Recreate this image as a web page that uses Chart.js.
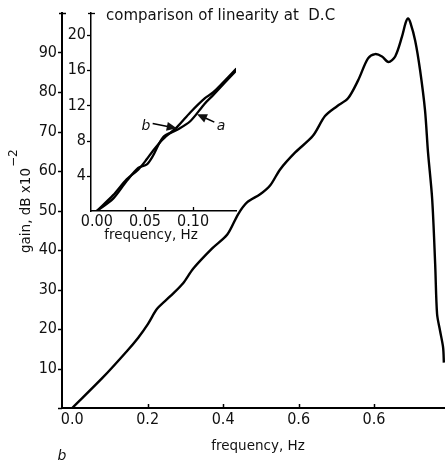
<!DOCTYPE html>
<html>
<head>
<meta charset="utf-8">
<script src="https://cdn.jsdelivr.net/npm/chart.js@4/dist/chart.umd.min.js"></script>
<style>
  html, body { margin: 0; padding: 0; background: #fff; }
  #wrap { position: relative; width: 445px; height: 463px; overflow: hidden; }
  #wrap canvas { position: absolute; left: 0; top: 0; }
</style>
</head>
<body>
<div id="wrap">
  <canvas id="main" width="445" height="463"></canvas>
  <canvas id="inset" width="340" height="250"></canvas>
</div>
<script>
// Main response: frequency (Hz) against gain (dB x 10^-2)
const mainFreq = [0.000, 0.082, 0.146, 0.175, 0.201, 0.225, 0.260, 0.294, 0.321, 0.371,
                  0.411, 0.440, 0.464, 0.498, 0.525, 0.551, 0.591, 0.638, 0.670, 0.702,
                  0.731, 0.758, 0.784, 0.803, 0.821, 0.838, 0.856, 0.874, 0.884, 0.890,
                  0.896, 0.909, 0.922, 0.935, 0.943, 0.954, 0.962, 0.967, 0.975, 0.983, 0.985];
const mainGain = [0.0, 7.8, 14.5, 17.8, 21.3, 25.1, 28.3, 31.6, 35.3, 40.4,
                  43.9, 49.1, 52.1, 54.1, 56.4, 60.4, 64.7, 68.9, 73.9, 76.4,
                  78.4, 83.0, 88.5, 89.6, 89.0, 87.6, 89.0, 94.0, 97.6, 98.6,
                  97.6, 93.0, 85.5, 75.4, 64.7, 52.9, 36.3, 23.8, 19.5, 15.3, 11.5];
const mainXTickValues = [0, 0.2, 0.4, 0.6, 0.8];
const mainXTickLabels = ['0.0', '0.2', '0.4', '0.6', '0.6'];
const mainYTickValues = [10, 20, 30, 40, 50, 60, 70, 80, 90];

// Inset: linearity at DC, curves a and b
const insetFreq  = [0.000, 0.017, 0.031, 0.043, 0.052, 0.058, 0.069, 0.083, 0.097, 0.112, 0.121, 0.145];
const insetGainA = [0.0, 1.8, 3.6, 4.7, 5.9, 6.8, 8.2, 9.5, 11.2, 12.8, 13.5, 16.2];
const insetGainB = [0.0, 1.4, 3.4, 4.9, 5.3, 6.2, 8.4, 9.2, 10.2, 12.2, 13.2, 16.0];
const insetXTickValues = [0, 0.05, 0.10];
const insetXTickLabels = ['0.00', '0.05', '0.10'];
const insetYTickValues = [4, 8, 12, 16, 20];

const DIGITS = '"Liberation Sans Narrow", "DejaVu Sans Condensed", "Liberation Sans", sans-serif';
const TEXT = '"DejaVu Sans", sans-serif';
const INK = '#111';

// short tick marks drawn against the axis lines
const tickMarks = {
  id: 'tickMarks',
  afterDraw(chart, args, opts) {
    const ctx = chart.ctx, ca = chart.chartArea;
    const xs = chart.scales.x, ys = chart.scales.y;
    ctx.save();
    ctx.strokeStyle = '#000';
    ctx.lineWidth = opts.width;
    (opts.x || []).forEach(v => {
      const px = Math.round(xs.getPixelForValue(v)) + 0.5;
      ctx.beginPath(); ctx.moveTo(px, ca.bottom); ctx.lineTo(px, ca.bottom - opts.len); ctx.stroke();
    });
    (opts.y || []).forEach(v => {
      const py = Math.round(ys.getPixelForValue(v)) + 0.5;
      ctx.beginPath(); ctx.moveTo(ca.left, py); ctx.lineTo(ca.left - opts.len, py); ctx.stroke();
    });
    if (opts.cap !== undefined) {
      const py = Math.round(ys.getPixelForValue(opts.cap)) + 0.5;
      ctx.beginPath(); ctx.moveTo(ca.left - 3, py); ctx.lineTo(ca.left + 4, py); ctx.stroke();
    }
    ctx.restore();
  }
};

function arrow(ctx, x0, y0, x1, y1, head) {
  const a = Math.atan2(y1 - y0, x1 - x0);
  ctx.beginPath(); ctx.moveTo(x0, y0);
  ctx.lineTo(x1 - Math.cos(a) * head * 0.8, y1 - Math.sin(a) * head * 0.8); ctx.stroke();
  ctx.beginPath();
  ctx.moveTo(x1, y1);
  ctx.lineTo(x1 - head * Math.cos(a) + head * 0.45 * Math.sin(a), y1 - head * Math.sin(a) - head * 0.45 * Math.cos(a));
  ctx.lineTo(x1 - head * Math.cos(a) - head * 0.45 * Math.sin(a), y1 - head * Math.sin(a) + head * 0.45 * Math.cos(a));
  ctx.closePath(); ctx.fill();
}

// axis titles and the panel letter of the main chart
const mainText = {
  id: 'mainText',
  afterDraw(chart) {
    const ctx = chart.ctx;
    ctx.save();
    ctx.fillStyle = INK;
    ctx.textBaseline = 'alphabetic';
    ctx.font = '13.5px ' + TEXT;
    ctx.textAlign = 'center';
    ctx.fillText('frequency, Hz', 258, 450);
    // y title, rotated, with superscript exponent
    ctx.translate(30, 253);
    ctx.rotate(-Math.PI / 2);
    ctx.textAlign = 'left';
    const body = 'gain, dB x10';
    ctx.fillText(body, 0, 0);
    const w = ctx.measureText(body).width;
    ctx.font = '12px ' + TEXT;
    ctx.fillText('\u22122', w + 1, -13);
    ctx.restore();
    ctx.save();
    ctx.fillStyle = INK;
    ctx.font = 'italic 14px ' + TEXT;
    ctx.textAlign = 'center';
    ctx.fillText('b', 62, 460);
    ctx.restore();
  }
};

// inset title, axis title and a/b pointers
const insetText = {
  id: 'insetText',
  afterDraw(chart) {
    const ctx = chart.ctx, xs = chart.scales.x, ys = chart.scales.y;
    ctx.save();
    ctx.fillStyle = INK;
    ctx.strokeStyle = '#000';
    ctx.textBaseline = 'alphabetic';
    ctx.font = '15px ' + TEXT;
    ctx.textAlign = 'left';
    ctx.fillText('comparison of linearity at  D.C', 106, 20);
    ctx.font = '13.5px ' + TEXT;
    ctx.textAlign = 'center';
    ctx.fillText('frequency, Hz', 151, 239);
    ctx.lineWidth = 1.6;
    ctx.font = 'italic 14px ' + TEXT;
    // pointer b
    ctx.fillText('b', xs.getPixelForValue(0.051), ys.getPixelForValue(9.8) + 5);
    arrow(ctx, xs.getPixelForValue(0.058), ys.getPixelForValue(9.95),
               xs.getPixelForValue(0.083), ys.getPixelForValue(9.4), 10);
    // pointer a
    ctx.fillText('a', xs.getPixelForValue(0.129), ys.getPixelForValue(9.8) + 5);
    arrow(ctx, xs.getPixelForValue(0.122), ys.getPixelForValue(10.1),
               xs.getPixelForValue(0.104), ys.getPixelForValue(11.0), 10);
    ctx.restore();
  }
};

const pts = (xs, ys) => xs.map((x, i) => ({ x: x, y: ys[i] }));

new Chart(document.getElementById('main'), {
  type: 'line',
  data: {
    datasets: [{
      data: pts(mainFreq, mainGain),
      borderColor: '#000', borderWidth: 2.4, pointRadius: 0,
      tension: 0.3, fill: false
    }]
  },
  options: {
    responsive: false, animation: false, devicePixelRatio: 1,
    layout: { padding: { top: 9, right: 0, left: 0, bottom: 0 } },
    plugins: {
      legend: { display: false }, tooltip: { enabled: false },
      tickMarks: { x: [0.2, 0.4, 0.6, 0.8], y: [0].concat(mainYTickValues), cap: 100, len: 4, width: 1.5 }
    },
    scales: {
      x: {
        type: 'linear', min: -0.027, max: 0.988,
        grid: { display: false, drawTicks: false },
        border: { display: true, color: '#000', width: 2 },
        afterBuildTicks: s => { s.ticks = mainXTickValues.map(v => ({ value: v })); },
        afterFit: s => { s.height = 55; },
        ticks: {
          padding: 4, color: INK, autoSkip: false, maxRotation: 0,
          font: { family: DIGITS, size: 16, lineHeight: 1 },
          callback: (v, i) => mainXTickLabels[i]
        }
      },
      y: {
        type: 'linear', min: 0, max: 100,
        grid: { display: false, drawTicks: false },
        border: { display: true, color: '#000', width: 2 },
        afterBuildTicks: s => { s.ticks = mainYTickValues.map(v => ({ value: v })); },
        afterFit: s => { s.width = 62; },
        ticks: {
          padding: 5, color: INK,
          font: { family: DIGITS, size: 16, lineHeight: 1 }
        }
      }
    }
  },
  plugins: [tickMarks, mainText]
});

new Chart(document.getElementById('inset'), {
  type: 'line',
  data: {
    datasets: [
      { label: 'a', data: pts(insetFreq, insetGainA), borderColor: '#000', borderWidth: 2.3,
        pointRadius: 0, tension: 0.3, fill: false },
      { label: 'b', data: pts(insetFreq, insetGainB), borderColor: '#000', borderWidth: 2.3,
        pointRadius: 0, tension: 0.3, fill: false }
    ]
  },
  options: {
    responsive: false, animation: false, devicePixelRatio: 1,
    layout: { padding: { top: 11, right: 104, left: 0, bottom: 0 } },
    plugins: {
      legend: { display: false }, tooltip: { enabled: false },
      tickMarks: { x: [0.05, 0.10], y: insetYTickValues, cap: 22.5, len: 4, width: 1.3 }
    },
    scales: {
      x: {
        type: 'linear', min: -0.006, max: 0.1445,
        grid: { display: false, drawTicks: false },
        border: { display: true, color: '#000', width: 1.5 },
        afterBuildTicks: s => { s.ticks = insetXTickValues.map(v => ({ value: v })); },
        afterFit: s => { s.height = 39; },
        ticks: {
          padding: 3, color: INK, autoSkip: false, maxRotation: 0,
          font: { family: DIGITS, size: 16, lineHeight: 1 },
          callback: (v, i) => insetXTickLabels[i]
        }
      },
      y: {
        type: 'linear', min: 0, max: 22.5,
        grid: { display: false, drawTicks: false },
        border: { display: true, color: '#000', width: 1.5 },
        afterBuildTicks: s => { s.ticks = insetYTickValues.map(v => ({ value: v })); },
        afterFit: s => { s.width = 91; },
        ticks: {
          padding: 5, color: INK,
          font: { family: DIGITS, size: 16, lineHeight: 1 }
        }
      }
    }
  },
  plugins: [tickMarks, insetText]
});
</script>
</body>
</html>
